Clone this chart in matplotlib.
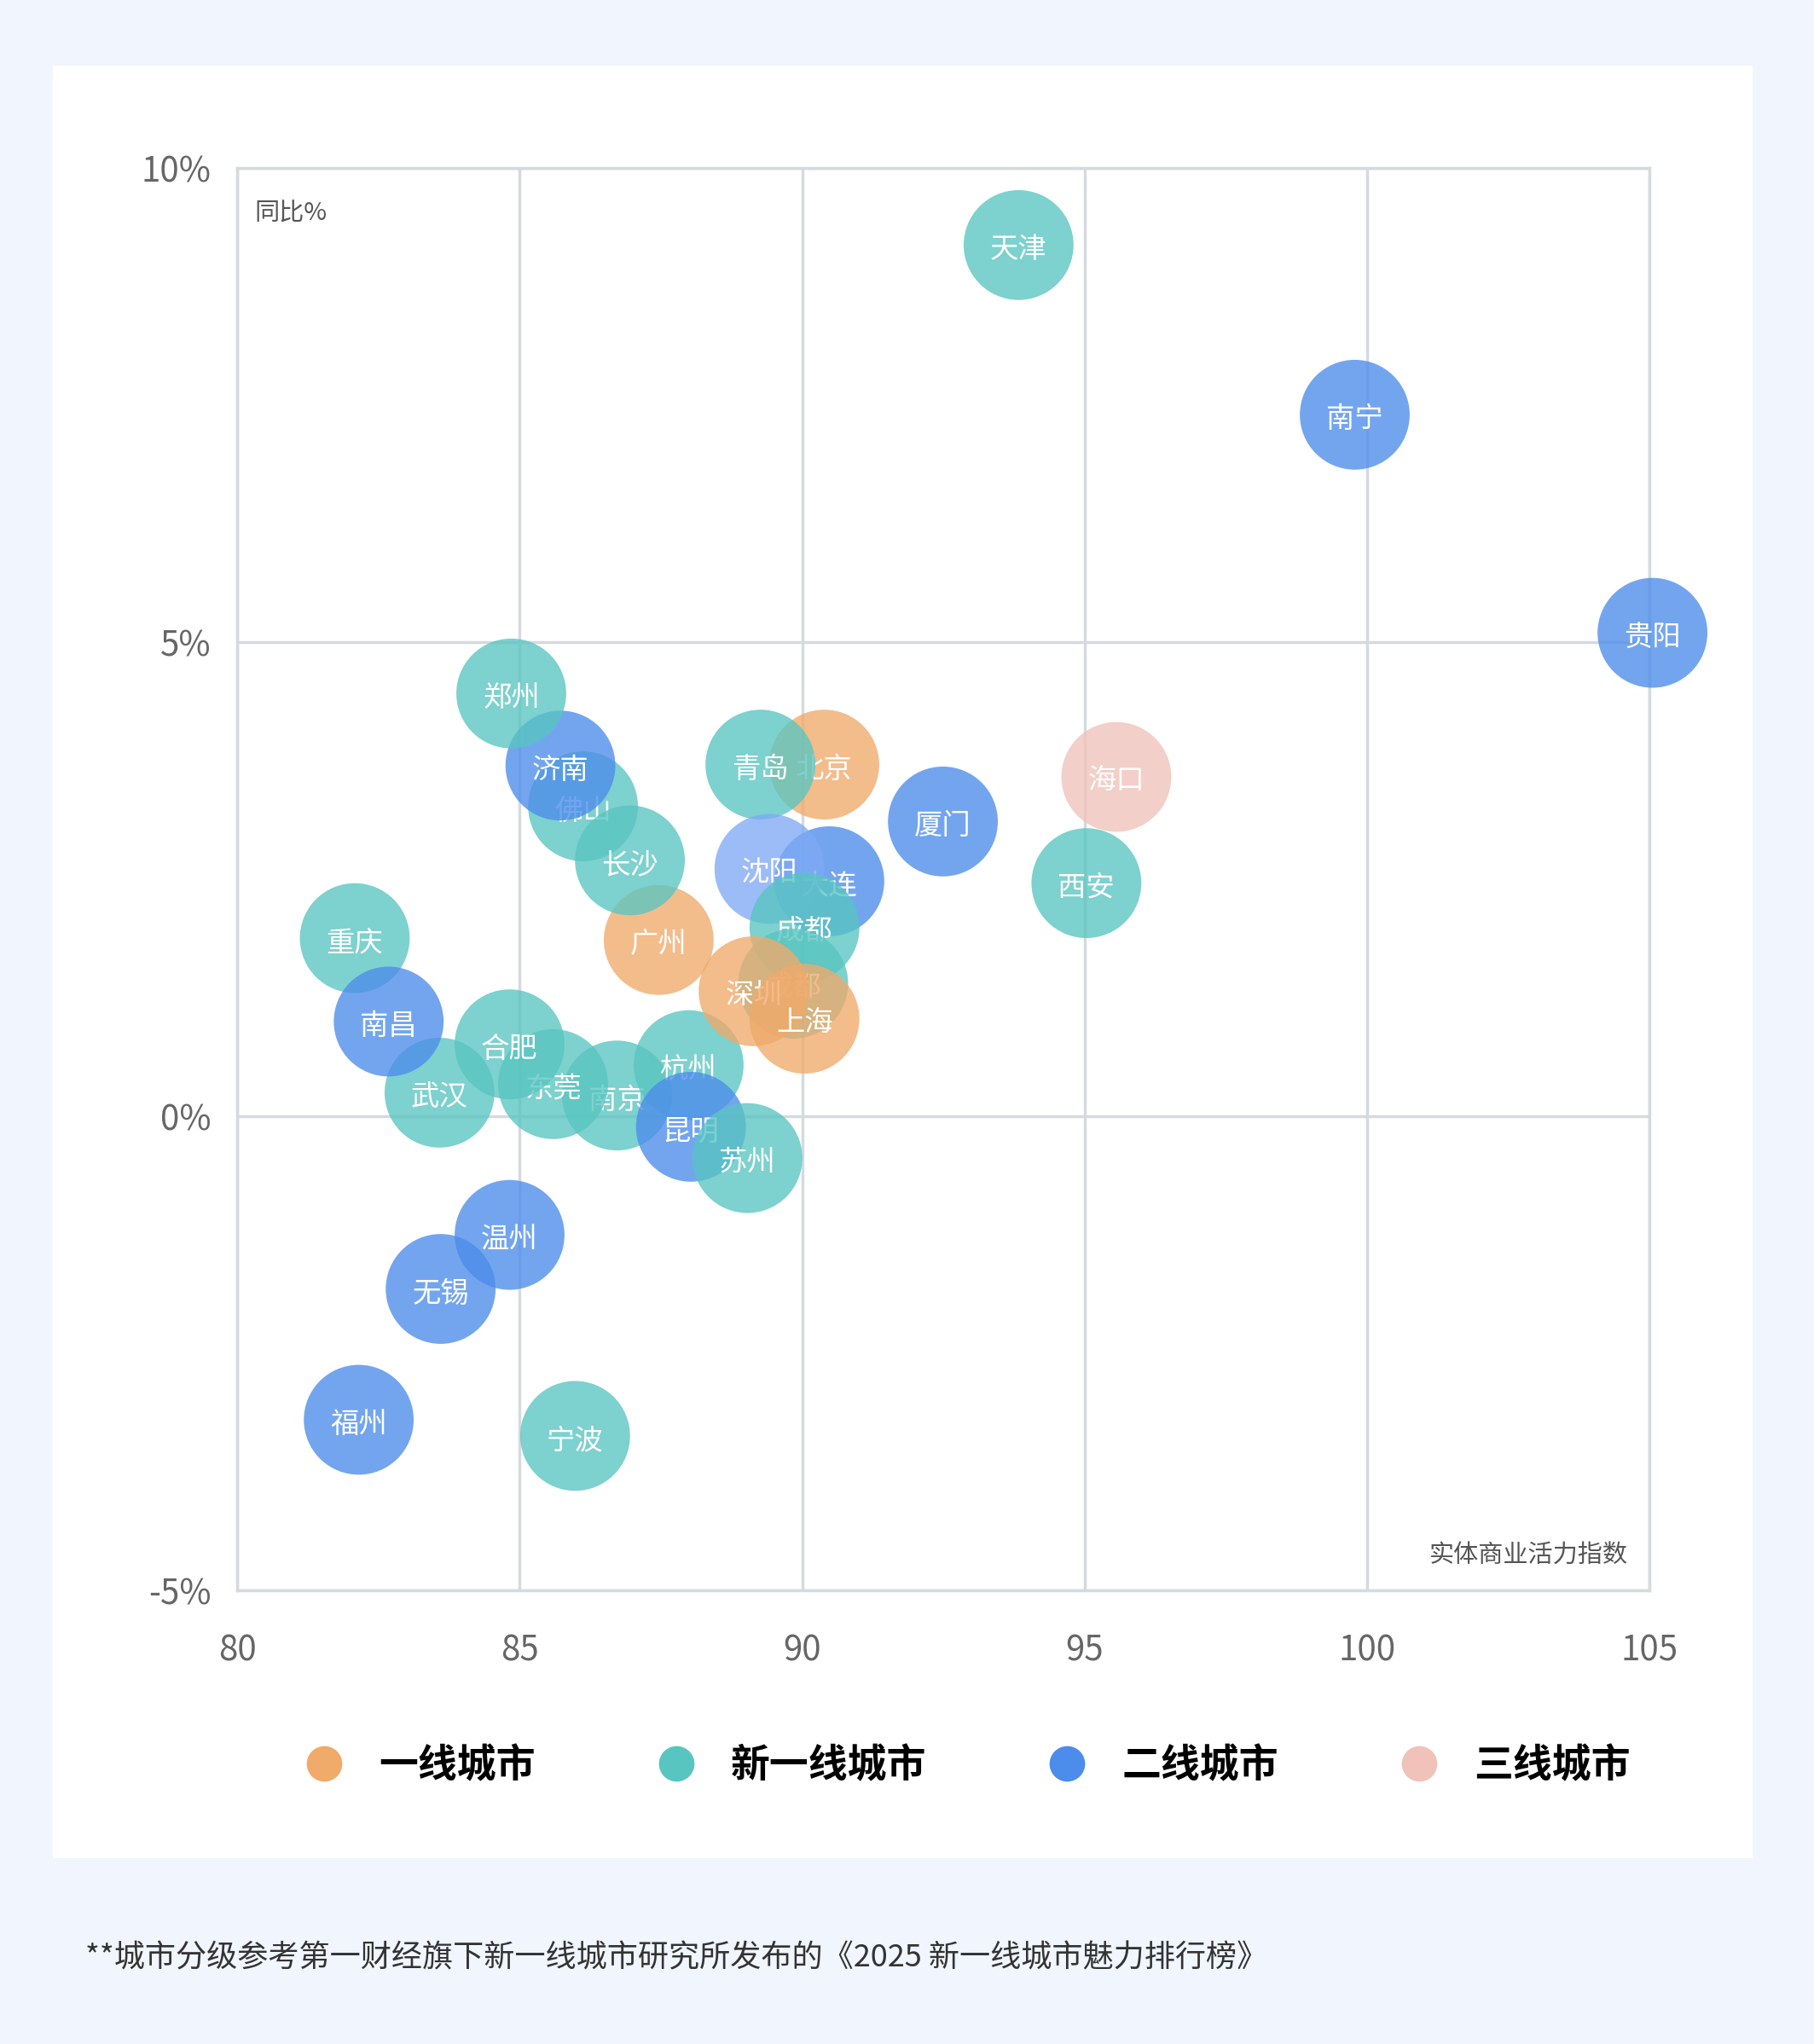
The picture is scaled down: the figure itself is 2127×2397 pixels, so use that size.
import matplotlib.pyplot as plt
from matplotlib.patches import Rectangle
from matplotlib.lines import Line2D

plt.rcParams['font.family'] = ['Noto Sans CJK SC', 'DejaVu Sans']

# draw order matters: later circles cover earlier labels
cities = ['福州', '宁波', '无锡', '温州', '重庆', '武汉', '南昌', '南京', '东莞', '合肥',
          '广州', '杭州', '昆明', '苏州', '佛山', '济南', '郑州', '长沙', '北京', '青岛',
          '大连', '沈阳', '成都', '成都', '深圳', '上海', '厦门', '西安', '海口', '天津',
          '南宁', '贵阳']
index = [82.15, 85.98, 83.60, 84.82, 82.08, 83.58, 82.68, 86.72, 85.59, 84.82,
         87.46, 87.99, 88.03, 89.03, 86.12, 85.72, 84.85, 86.95, 90.39, 89.26,
         90.48, 89.42, 90.04, 89.84, 89.14, 90.04, 92.49, 95.03, 95.56, 93.83,
         99.78, 105.05]
yoy = [-3.20, -3.37, -1.82, -1.25, 1.88, 0.25, 1.00, 0.22, 0.34, 0.76,
       1.86, 0.54, -0.11, -0.44, 3.27, 3.70, 4.46, 2.70, 3.71, 3.71,
       2.48, 2.61, 1.99, 1.40, 1.32, 1.03, 3.11, 2.46, 3.58, 9.19,
       7.40, 5.10]
tier = ['二线', '新一线', '二线', '二线', '新一线', '新一线', '二线', '新一线', '新一线', '新一线',
        '一线', '新一线', '二线', '新一线', '新一线', '二线', '新一线', '新一线', '一线', '新一线',
        '二线', '二线浅', '新一线', '新一线', '一线', '一线', '二线', '新一线', '三线', '新一线',
        '二线', '二线']

colors = {'一线': '#F0AA6A', '新一线': '#58C5C1', '二线': '#4C8CEB',
          '二线浅': '#7FAAF5', '三线': '#F0C2BA'}
legend_items = [('一线城市', '一线'), ('新一线城市', '新一线'),
                ('二线城市', '二线'), ('三线城市', '三线')]

fig = plt.figure(figsize=(21.27, 23.97), dpi=100)
fig.patch.set_facecolor('#F1F5FD')
fig.add_artist(Rectangle((0.029, 0.091), 0.937, 0.877, transform=fig.transFigure,
                         facecolor='white', edgecolor='none', zorder=0))

ax = fig.add_axes([0.1308, 0.2219, 0.7786, 0.6958])
ax.set_facecolor('white')
ax.set_xlim(80, 105)
ax.set_ylim(-5, 10)
ax.set_xticks([80, 85, 90, 95, 100, 105])
ax.set_yticks([-5, 0, 5, 10])
ax.set_yticklabels(['-5%', '0%', '5%', '10%'])
ax.grid(True, color='#D5DADF', linewidth=2.5)
for s in ax.spines.values():
    s.set_color('#D5DADF')
    s.set_linewidth(2.5)
ax.tick_params(length=0, labelsize=29, colors='#666666', pad=22)
ax.tick_params(axis='x', pad=36)

z = 3
for name, xv, yv, t in zip(cities, index, yoy, tier):
    ax.scatter([xv], [yv], s=8600, color=colors[t], alpha=0.78, edgecolors='none',
               zorder=z, clip_on=False)
    ax.text(xv, yv - 0.05, name, color='white', fontsize=24, fontweight='medium',
            ha='center', va='center', zorder=z + 1, clip_on=False)
    z += 2

ax.text(0.012, 0.977, '同比%', transform=ax.transAxes, fontsize=21, color='#555555',
        fontweight='medium', ha='left', va='top')
ax.text(0.985, 0.015, '实体商业活力指数', transform=ax.transAxes, fontsize=21,
        fontweight='medium', color='#555555', ha='right', va='bottom')

handles = [Line2D([], [], marker='o', linestyle='none', markersize=30,
                  markerfacecolor=colors[k], markeredgecolor='none', label=lab)
           for lab, k in legend_items]
fig.legend(handles=handles, loc='center', bbox_to_anchor=(0.528, 0.136), ncol=4,
           frameon=False, handletextpad=0.4, columnspacing=2.6,
           prop={'size': 33, 'weight': 'bold'})

fig.text(0.047, 0.042, '**城市分级参考第一财经旗下新一线城市研究所发布的《2025 新一线城市魅力排行榜》',
         fontsize=26, fontweight='medium', color='#333333', ha='left', va='center')

fig.savefig('out.png', dpi=100, facecolor=fig.get_facecolor())
